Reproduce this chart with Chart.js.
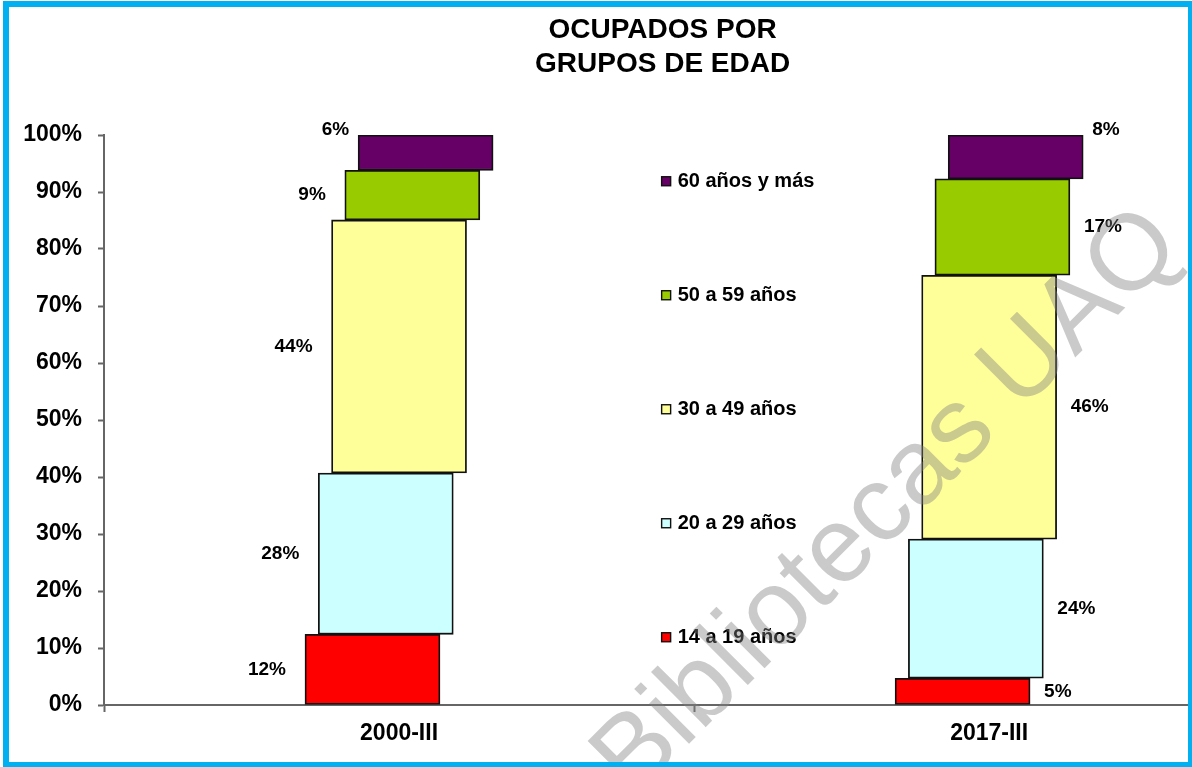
<!DOCTYPE html>
<html>
<head>
<meta charset="utf-8">
<title>Ocupados por grupos de edad</title>
<script src="https://cdn.jsdelivr.net/npm/chart.js@4.4.0/dist/chart.umd.min.js"></script>
<style>
  html, body { margin: 0; padding: 0; background: #fff; }
  #wrap { position: relative; width: 1192px; height: 767px; overflow: hidden; }
  #frame { position: absolute; left: 3px; top: 1px; width: 1179px; height: 755px; border: 6px solid #00B0F0; pointer-events: none; }
  canvas { position: absolute; left: 0; top: 0; }
</style>
</head>
<body>
<div id="wrap">
  <canvas id="chart" width="1192" height="767"></canvas>
  <div id="frame"></div>
</div>
<script>
// data
const categories = ['2000-III', '2017-III'];
const groups = ['14 a 19 años', '20 a 29 años', '30 a 49 años', '50 a 59 años', '60 años y más'];
const share2000 = [12.4, 28.3, 44.4, 8.7, 6.2];
const share2017 = [4.7, 24.4, 46.3, 16.9, 7.7];
const titleLines = ['OCUPADOS POR', 'GRUPOS DE EDAD'];
const watermark = 'Bibliotecas UAQ';

const colors = ['#FF0000', '#CCFFFF', '#FFFF99', '#99CC00', '#660066'];
const FONT = '"Liberation Sans", Arial, sans-serif';
const STEP = 0.0225; // each segment is shifted right a little

const series = [share2000, share2017];
const datasets = groups.map((g, i) => ({
  label: g,
  data: series.map((vals, c) => {
    const start = vals.slice(0, i).reduce((a, b) => a + b, 0);
    return { x: c + (i - 2) * STEP, y: [start, start + vals[i]], v: vals[i] };
  }),
  backgroundColor: colors[i],
  borderColor: '#111',
  borderWidth: 1.8,
  borderSkipped: false,
  barThickness: 135,
  grouped: false
}));

const extras = {
  id: 'extras',
  afterDatasetsDraw(chart) {
    const ctx = chart.ctx;
    const xs = chart.scales.x, ys = chart.scales.y;
    ctx.save();

    // value labels
    ctx.font = 'bold 19px ' + FONT;
    ctx.fillStyle = '#000';
    ctx.textBaseline = 'middle';
    chart.data.datasets.forEach((ds, i) => {
      const meta = chart.getDatasetMeta(i);
      meta.data.forEach((bar, c) => {
        const p = bar.getProps(['x', 'y', 'base', 'width'], true);
        const txt = Math.round(ds.data[c].v) + '%';
        const top = i === groups.length - 1;
        const ty = top ? p.y - 5 : (p.y + p.base) / 2;
        const gap = top ? 9 : (c === 0 ? 19 : 14);
        if (c === 0) {
          ctx.textAlign = 'right';
          ctx.fillText(txt, p.x - p.width / 2 - gap, ty);
        } else {
          ctx.textAlign = 'left';
          ctx.fillText(txt, p.x + p.width / 2 + gap, ty);
        }
      });
    });

    // legend in the middle
    const lx = xs.getPixelForValue(0.445);
    ctx.font = 'bold 20px ' + FONT;
    ctx.textAlign = 'left';
    groups.forEach((g, i) => {
      const ly = ys.getPixelForValue(11.8 + 20 * i);
      ctx.fillStyle = colors[i];
      ctx.fillRect(lx, ly - 5, 9, 9);
      ctx.strokeStyle = '#111';
      ctx.lineWidth = 1.4;
      ctx.strokeRect(lx, ly - 5, 9, 9);
      ctx.fillStyle = '#000';
      ctx.fillText(g, lx + 16, ly);
    });

    // title
    ctx.font = 'bold 28px ' + FONT;
    ctx.textAlign = 'center';
    ctx.textBaseline = 'alphabetic';
    titleLines.forEach((t, k) => ctx.fillText(t, lx + 1, 38 + 34 * k));
    ctx.restore();
  },
  afterDraw(chart) {
    const ctx = chart.ctx;
    ctx.save();
    ctx.translate(888, 503);
    ctx.rotate(-45 * Math.PI / 180);
    ctx.font = '107px ' + FONT;
    ctx.fillStyle = 'rgba(128,128,128,0.42)';
    ctx.textAlign = 'center';
    ctx.textBaseline = 'middle';
    ctx.fillText(watermark, 0, 0);
    ctx.restore();
  }
};

new Chart(document.getElementById('chart'), {
  type: 'bar',
  data: { datasets: datasets },
  plugins: [extras],
  options: {
    responsive: false,
    animation: false,
    layout: { padding: { top: 135, right: 4, left: 0, bottom: 0 } },
    plugins: {
      legend: { display: false },
      tooltip: { enabled: false },
      title: { display: false }
    },
    scales: {
      x: {
        type: 'linear',
        min: -0.5,
        max: 1.337,
        offset: false,
        afterBuildTicks: s => { s.ticks = [-0.5, 0, 0.5, 1].map(v => ({ value: v })); },
        afterFit: s => { s.height = 62; },
        grid: {
          offset: false,
          drawOnChartArea: false,
          tickLength: 7,
          tickWidth: 2,
          tickColor: ctx => (ctx.tick && ctx.tick.value % 1 !== 0) ? '#666' : 'rgba(0,0,0,0)'
        },
        border: { color: '#666', width: 2 },
        ticks: {
          autoSkip: false,
          maxRotation: 0,
          padding: 8,
          color: '#000',
          font: { family: FONT, size: 23, weight: 'bold' },
          callback: v => Number.isInteger(v) ? categories[v] : ''
        }
      },
      y: {
        min: 0,
        max: 100,
        afterFit: s => { s.width = 104; },
        grid: { drawOnChartArea: false, tickLength: 6, tickWidth: 2, tickColor: '#666' },
        border: { color: '#666', width: 2 },
        ticks: {
          stepSize: 10,
          padding: 16,
          color: '#000',
          font: { family: FONT, size: 23, weight: 'bold' },
          callback: v => v + '%'
        }
      }
    }
  }
});
</script>
</body>
</html>
